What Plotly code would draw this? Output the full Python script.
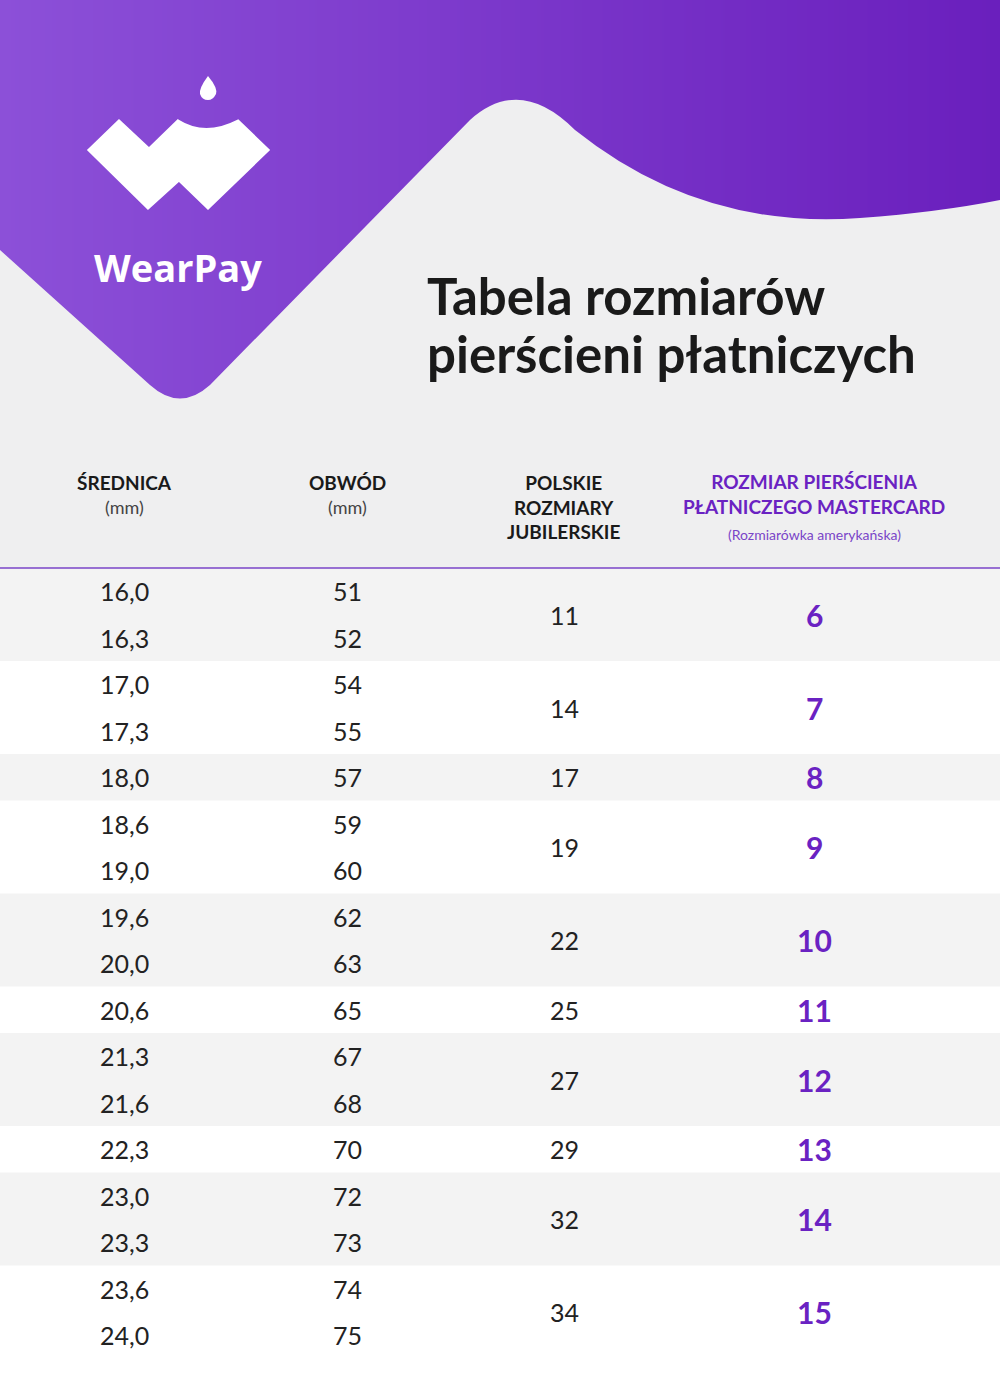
import plotly.graph_objects as go
import numpy as np

diameters = ["16,0","16,3","17,0","17,3","18,0","18,6","19,0","19,6","20,0","20,6","21,3","21,6","22,3","23,0","23,3","23,6","24,0"]
circumferences = ["51","52","54","55","57","59","60","62","63","65","67","68","70","72","73","74","75"]
group_sizes = [2,2,1,2,2,1,2,1,2,2]
polish_sizes = ["11","14","17","19","22","25","27","29","32","34"]
us_sizes = ["6","7","8","9","10","11","12","13","14","15"]
headers = [("ŚREDNICA", "(mm)"), ("OBWÓD", "(mm)")]

PURPLE = "#6a22c2"
W, H = 1000, 1400
ROW0, ROWH = 568, 46.5
colx = [124, 347, 564, 814]

fig = go.Figure()
gx = np.linspace(0, 1000, 60)
fig.add_trace(go.Heatmap(x=gx, y=[0, 430], z=[gx, gx], colorscale=[[0, "#8c50d8"], [1, "#6a1fbd"]],
                         showscale=False, hoverinfo="skip", zsmooth="best"))
shapes = []
shapes.append(dict(type="path", layer="above",
    path="M 0 250 L 150 385 Q 180 412 210 385 L 470 120 Q 520 75 575 130 Q 700 230 860 218 Q 940 212 1000 200 L 1000 1400 L 0 1400 Z",
    fillcolor="#efeff0", line=dict(width=0)))
shapes.append(dict(type="rect", x0=0, x1=W, y0=ROW0, y1=H, fillcolor="white", line=dict(width=0), layer="above"))
start = 0
for gi, n in enumerate(group_sizes):
    y0 = ROW0 + start * ROWH
    y1 = y0 + n * ROWH
    if gi % 2 == 0:
        shapes.append(dict(type="rect", x0=0, x1=W, y0=y0, y1=y1, fillcolor="#f3f3f3", line=dict(width=0), layer="above"))
    start += n
shapes.append(dict(type="line", x0=0, x1=W, y0=ROW0, y1=ROW0, line=dict(color="#7a45c8", width=1.5), layer="above"))
shapes.append(dict(type="path", layer="above",
    path="M 89 150 L 119 121 L 149 149 L 178 121 Q 205 138 238 121 L 268 150 L 208 208 L 179 180 L 148 208 Z",
    fillcolor="white", line=dict(color="white", width=3)))
shapes.append(dict(type="path", layer="above",
    path="M 208 76 Q 218 88 216 94 Q 213 100 208 100 Q 202 100 200 94 Q 199 88 208 76 Z",
    fillcolor="white", line=dict(width=0)))

ann = []
def A(x, y, t, size, color="#1a1a1a", family="Lato", xanchor="center", **kw):
    ann.append(dict(x=x, y=y, xref="x", yref="y", text=t, showarrow=False, xanchor=xanchor, yanchor="middle",
                    font=dict(size=size, color=color, family=family), **kw))

A(178, 267, "<b>WearPay</b>", 38, color="white", family="Open Sans")
A(425, 295, "<b>Tabela rozmiarów</b>", 51, family="Lato", xanchor="left")
A(425, 353, "<b>pierścieni płatniczych</b>", 51, family="Lato", xanchor="left")
for i, (h, s) in enumerate(headers):
    A(colx[i], 482, "<b>" + h + "</b>", 19)
    A(colx[i], 507, s, 18, color="#444")
A(colx[2], 507, "<b>POLSKIE<br>ROZMIARY<br>JUBILERSKIE</b>", 19, align="center")
A(814, 494, "<b>ROZMIAR PIERŚCIENIA<br>PŁATNICZEGO MASTERCARD</b>", 19, color=PURPLE, align="center")
A(814, 534, "(Rozmiarówka amerykańska)", 14, color="#7a45c8")

for i in range(len(diameters)):
    y = ROW0 + ROWH * (i + 0.5)
    A(colx[0], y, diameters[i], 25, color="#222")
    A(colx[1], y, circumferences[i], 25, color="#222")
start = 0
for gi, n in enumerate(group_sizes):
    y = ROW0 + ROWH * (start + n / 2)
    A(colx[2], y, polish_sizes[gi], 25, color="#222")
    A(colx[3], y, "<b>" + us_sizes[gi] + "</b>", 30, color=PURPLE)
    start += n

fig.update_layout(width=W, height=H, margin=dict(l=0, r=0, t=0, b=0), paper_bgcolor="white", plot_bgcolor="white",
                  shapes=shapes, annotations=ann, showlegend=False,
                  xaxis=dict(range=[0, W], visible=False, fixedrange=True),
                  yaxis=dict(range=[H, 0], visible=False, fixedrange=True))
fig.write_html("out.html", config={"displayModeBar": False},
               post_script="document.body.style.margin='0';document.body.style.overflow='hidden';")
